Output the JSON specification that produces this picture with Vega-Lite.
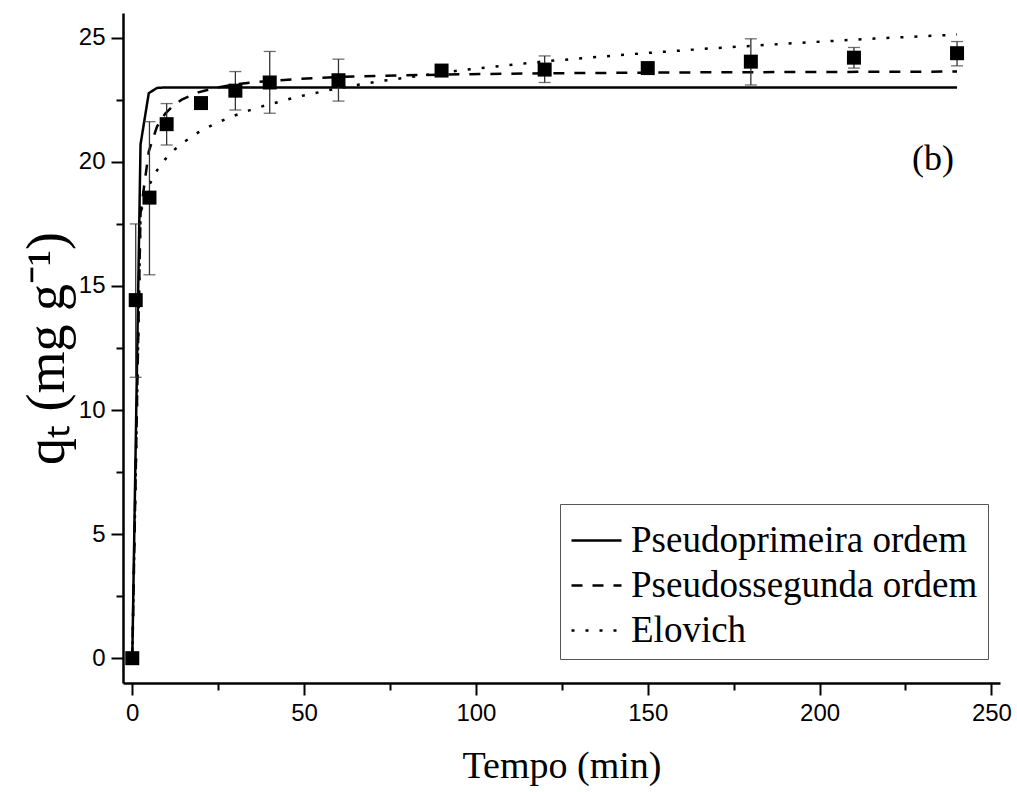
{
  "$schema": "https://vega.github.io/schema/vega-lite/v6.json",
  "width": 877,
  "height": 670,
  "autosize": "none",
  "padding": {"left": 123, "top": 13, "right": 17, "bottom": 109},
  "background": "white",
  "config": {
    "view": {"stroke": null},
    "axis": {
      "grid": false,
      "domainColor": "black",
      "domainWidth": 2.5,
      "tickColor": "black",
      "tickWidth": 2,
      "labelFont": "Liberation Sans",
      "labelFontSize": 24,
      "labelColor": "black",
      "titleFont": "Liberation Serif",
      "titleFontSize": 38,
      "titleFontWeight": "normal",
      "titleColor": "black"
    }
  },
  "datasets": {
    "pts": [
      {"t": 0, "q": 0, "lo": 0, "hi": 0},
      {"t": 1, "q": 14.43, "lo": 11.32, "hi": 17.5},
      {"t": 5, "q": 18.56, "lo": 15.45, "hi": 21.62},
      {"t": 10, "q": 21.52, "lo": 20.68, "hi": 22.35},
      {"t": 20, "q": 22.37, "lo": 22.2, "hi": 22.55},
      {"t": 30, "q": 22.87, "lo": 22.09, "hi": 23.64},
      {"t": 40, "q": 23.2, "lo": 21.96, "hi": 24.45},
      {"t": 60, "q": 23.29, "lo": 22.45, "hi": 24.14},
      {"t": 90, "q": 23.68, "lo": 23.5, "hi": 23.85},
      {"t": 120, "q": 23.72, "lo": 23.2, "hi": 24.27},
      {"t": 150, "q": 23.78, "lo": 23.6, "hi": 23.95},
      {"t": 180, "q": 24.04, "lo": 23.1, "hi": 24.96},
      {"t": 210, "q": 24.2, "lo": 23.78, "hi": 24.61},
      {"t": 240, "q": 24.38, "lo": 23.87, "hi": 24.85}
    ],
    "fits": [
      {"t": 0, "q": 0, "model": "Pseudoprimeira ordem"},
      {"t": 2.4, "q": 20.7, "model": "Pseudoprimeira ordem"},
      {"t": 4.8, "q": 22.77, "model": "Pseudoprimeira ordem"},
      {"t": 7.2, "q": 22.98, "model": "Pseudoprimeira ordem"},
      {"t": 9.6, "q": 23.0, "model": "Pseudoprimeira ordem"},
      {"t": 24, "q": 23.0, "model": "Pseudoprimeira ordem"},
      {"t": 60, "q": 23.0, "model": "Pseudoprimeira ordem"},
      {"t": 120, "q": 23.0, "model": "Pseudoprimeira ordem"},
      {"t": 180, "q": 23.0, "model": "Pseudoprimeira ordem"},
      {"t": 240, "q": 23.0, "model": "Pseudoprimeira ordem"},
      {"t": 0, "q": 0, "model": "Pseudossegunda ordem"},
      {"t": 2.4, "q": 17.93, "model": "Pseudossegunda ordem"},
      {"t": 4.8, "q": 20.42, "model": "Pseudossegunda ordem"},
      {"t": 7.2, "q": 21.42, "model": "Pseudossegunda ordem"},
      {"t": 9.6, "q": 21.95, "model": "Pseudossegunda ordem"},
      {"t": 12, "q": 22.28, "model": "Pseudossegunda ordem"},
      {"t": 14.4, "q": 22.51, "model": "Pseudossegunda ordem"},
      {"t": 19.2, "q": 22.8, "model": "Pseudossegunda ordem"},
      {"t": 24, "q": 22.98, "model": "Pseudossegunda ordem"},
      {"t": 28.8, "q": 23.1, "model": "Pseudossegunda ordem"},
      {"t": 36, "q": 23.22, "model": "Pseudossegunda ordem"},
      {"t": 48, "q": 23.34, "model": "Pseudossegunda ordem"},
      {"t": 60, "q": 23.42, "model": "Pseudossegunda ordem"},
      {"t": 72, "q": 23.47, "model": "Pseudossegunda ordem"},
      {"t": 96, "q": 23.53, "model": "Pseudossegunda ordem"},
      {"t": 120, "q": 23.57, "model": "Pseudossegunda ordem"},
      {"t": 144, "q": 23.59, "model": "Pseudossegunda ordem"},
      {"t": 168, "q": 23.61, "model": "Pseudossegunda ordem"},
      {"t": 192, "q": 23.62, "model": "Pseudossegunda ordem"},
      {"t": 216, "q": 23.63, "model": "Pseudossegunda ordem"},
      {"t": 240, "q": 23.64, "model": "Pseudossegunda ordem"},
      {"t": 0, "q": 0, "model": "Elovich"},
      {"t": 2.4, "q": 17.95, "model": "Elovich"},
      {"t": 4.8, "q": 19.03, "model": "Elovich"},
      {"t": 7.2, "q": 19.66, "model": "Elovich"},
      {"t": 9.6, "q": 20.11, "model": "Elovich"},
      {"t": 12, "q": 20.46, "model": "Elovich"},
      {"t": 14.4, "q": 20.74, "model": "Elovich"},
      {"t": 19.2, "q": 21.19, "model": "Elovich"},
      {"t": 24, "q": 21.54, "model": "Elovich"},
      {"t": 28.8, "q": 21.82, "model": "Elovich"},
      {"t": 36, "q": 22.17, "model": "Elovich"},
      {"t": 48, "q": 22.62, "model": "Elovich"},
      {"t": 60, "q": 22.97, "model": "Elovich"},
      {"t": 72, "q": 23.25, "model": "Elovich"},
      {"t": 96, "q": 23.7, "model": "Elovich"},
      {"t": 120, "q": 24.05, "model": "Elovich"},
      {"t": 144, "q": 24.33, "model": "Elovich"},
      {"t": 168, "q": 24.57, "model": "Elovich"},
      {"t": 192, "q": 24.78, "model": "Elovich"},
      {"t": 216, "q": 24.97, "model": "Elovich"},
      {"t": 240, "q": 25.13, "model": "Elovich"}
    ],
    "note": [{"t": 233, "q": 20.1, "label": "(b)"}]
  },
  "layer": [
    {
      "data": {"name": "fits"},
      "mark": {"type": "line", "color": "black", "strokeWidth": 2.5},
      "encoding": {
        "x": {"field": "t", "type": "quantitative", "scale": {"domain": [-2.7, 252.5], "nice": false, "zero": false},
          "axis": {"orient": "bottom", "values": [25, 75, 125, 175, 225], "tickSize": 7, "labels": false, "domain": false, "title": null}},
        "y": {"field": "q", "type": "quantitative", "scale": {"domain": [-1, 26], "nice": false, "zero": false},
          "axis": {"orient": "left", "values": [2.5, 7.5, 12.5, 17.5, 22.5], "tickSize": 7, "labels": false, "domain": false, "title": null}},
        "strokeDash": {
          "field": "model", "type": "nominal",
          "scale": {"domain": ["Pseudoprimeira ordem", "Pseudossegunda ordem", "Elovich"], "range": [[1, 0], [11, 10], [3, 11]]},
          "legend": {
            "title": null, "orient": "none", "legendX": 437, "legendY": 491,
            "symbolType": "stroke", "symbolSize": 2500, "symbolStrokeColor": "black", "symbolStrokeWidth": 2.5,
            "labelFont": "Liberation Serif", "labelFontSize": 37, "labelColor": "black", "labelLimit": 0, "labelOffset": 8,
            "strokeColor": "#555", "padding": 10, "rowPadding": -15, "fillColor": "white"
          }
        }
      }
    },
    {
      "data": {"name": "pts"},
      "mark": {"type": "errorbar", "color": "#333", "thickness": 1.3, "ticks": {"size": 12, "color": "#333", "thickness": 1.3}},
      "encoding": {
        "x": {"field": "t", "type": "quantitative", "scale": {"domain": [-2.7, 252.5], "nice": false, "zero": false}, "axis": null},
        "y": {"field": "lo", "type": "quantitative", "scale": {"domain": [-1, 26], "nice": false, "zero": false}, "axis": null},
        "y2": {"field": "hi"}
      }
    },
    {
      "data": {"name": "pts"},
      "mark": {"type": "point", "shape": "square", "filled": true, "color": "black", "size": 196, "opacity": 1},
      "encoding": {
        "x": {"field": "t", "type": "quantitative", "scale": {"domain": [-2.7, 252.5], "nice": false, "zero": false},
          "axis": {"orient": "bottom", "values": [0, 50, 100, 150, 200, 250], "tickSize": 12, "labelPadding": 6, "title": "Tempo (min)", "titlePadding": 22}},
        "y": {"field": "q", "type": "quantitative", "scale": {"domain": [-1, 26], "nice": false, "zero": false},
          "axis": {"orient": "left", "values": [0, 5, 10, 15, 20, 25], "tickSize": 12, "labelPadding": 6, "title": "qₜ (mg g⁻¹)", "titleFontSize": 54, "titlePadding": 4}}
      }
    },
    {
      "data": {"name": "note"},
      "mark": {"type": "text", "font": "Liberation Serif", "fontSize": 36, "color": "black", "align": "center", "baseline": "middle"},
      "encoding": {
        "x": {"field": "t", "type": "quantitative", "scale": {"domain": [-2.7, 252.5], "nice": false, "zero": false}, "axis": null},
        "y": {"field": "q", "type": "quantitative", "scale": {"domain": [-1, 26], "nice": false, "zero": false}, "axis": null},
        "text": {"field": "label"}
      }
    }
  ],
  "resolve": {"axis": {"x": "independent", "y": "independent"}}
}
